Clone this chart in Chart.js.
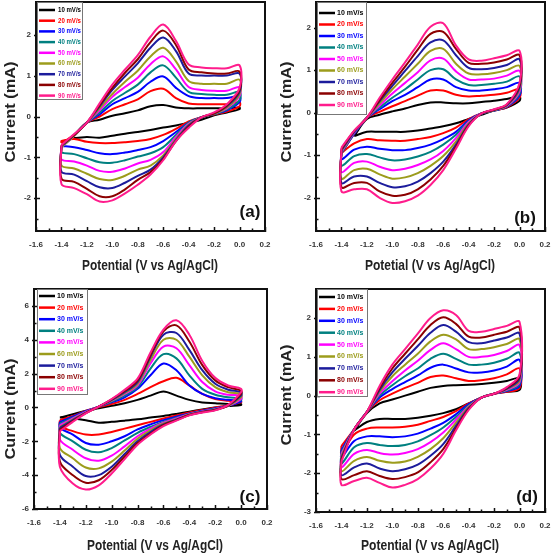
<!DOCTYPE html>
<html>
<head>
<meta charset="utf-8">
<script src="https://cdn.jsdelivr.net/npm/chart.js@4.4.0/dist/chart.umd.min.js"></script>
<style>
  html, body { margin: 0; padding: 0; background: #fff; }
  #fig { position: relative; width: 553px; height: 558px; }
  #fig canvas { position: absolute; }
</style>
</head>
<body>
<div id="fig">
  <canvas id="cvA" width="276" height="279" style="left:0;top:0"></canvas>
  <canvas id="cvB" width="277" height="279" style="left:276px;top:0"></canvas>
  <canvas id="cvC" width="276" height="279" style="left:0;top:279px"></canvas>
  <canvas id="cvD" width="277" height="279" style="left:276px;top:279px"></canvas>
</div>
<script>
// Potential grid (V vs Ag/AgCl), same for the forward and the reverse sweep
const potentials = [-1.4, -1.3, -1.2, -1.1, -1.0, -0.9, -0.8, -0.7, -0.6, -0.5, -0.4, -0.3, -0.2, -0.1, 0.0];
const scanRates = ['10 mV/s', '20 mV/s', '30 mV/s', '40 mV/s', '50 mV/s', '60 mV/s', '70 mV/s', '80 mV/s', '90 mV/s'];
const rateColors = ['#000000', '#ff0000', '#0000ff', '#008080', '#ff00ff', '#9c9c1c', '#1c1c9c', '#8b0000', '#ff1c8c'];

const xTicks = [-1.6, -1.4, -1.2, -1.0, -0.8, -0.6, -0.4, -0.2, 0.0, 0.2];
const yTicksA = [-2, -1, 0, 1, 2];
const yTicksB = [-2, -1, 0, 1, 2];
const yTicksC = [-6, -4, -2, 0, 2, 4, 6];
const yTicksD = [-3, -2, -1, 0, 1, 2];

// Current (mA), one row per scan rate, columns follow `potentials`
// anodic = upper branch, cathodic = lower branch
const anodicA = [
  [null, -0.45, -0.15, -0.08, 0.02, 0.08, 0.15, 0.25, 0.28, 0.22, 0.2, 0.2, 0.2, 0.2, 0.22],
  [-0.65, -0.45, -0.15, 0.0, 0.18, 0.3, 0.42, 0.62, 0.68, 0.45, 0.32, 0.3, 0.3, 0.3, 0.35],
  [-0.72, -0.47, -0.15, 0.05, 0.3, 0.45, 0.6, 0.85, 0.98, 0.7, 0.5, 0.45, 0.45, 0.45, 0.5],
  [-0.75, -0.47, -0.15, 0.1, 0.38, 0.58, 0.78, 1.08, 1.25, 0.95, 0.6, 0.55, 0.53, 0.53, 0.6],
  [-0.75, -0.47, -0.15, 0.15, 0.48, 0.72, 0.95, 1.28, 1.47, 1.15, 0.72, 0.65, 0.63, 0.63, 0.72],
  [-0.75, -0.47, -0.15, 0.2, 0.55, 0.85, 1.12, 1.47, 1.68, 1.35, 0.87, 0.8, 0.8, 0.8, 0.9],
  [-0.72, -0.45, -0.15, 0.25, 0.65, 0.98, 1.3, 1.68, 1.93, 1.6, 1.05, 1.0, 1.0, 1.0, 1.05],
  [-0.7, -0.45, -0.15, 0.28, 0.7, 1.07, 1.4, 1.82, 2.1, 1.75, 1.15, 1.08, 1.05, 1.05, 1.1],
  [-0.7, -0.43, -0.15, 0.32, 0.78, 1.15, 1.5, 1.95, 2.25, 1.85, 1.27, 1.2, 1.18, 1.18, 1.25]
];
const cathodicA = [
  [null, -0.52, -0.5, -0.52, -0.47, -0.42, -0.38, -0.33, -0.27, -0.22, -0.15, -0.08, 0.03, 0.1, 0.18],
  [-0.6, -0.55, -0.62, -0.65, -0.65, -0.63, -0.6, -0.55, -0.45, -0.3, -0.12, -0.02, 0.05, 0.12, 0.25],
  [-0.72, -0.75, -0.82, -0.9, -0.92, -0.88, -0.82, -0.75, -0.6, -0.38, -0.15, -0.02, 0.06, 0.15, 0.35],
  [-0.88, -0.92, -1.02, -1.12, -1.13, -1.07, -0.98, -0.9, -0.75, -0.45, -0.15, -0.02, 0.06, 0.17, 0.4],
  [-1.05, -1.1, -1.2, -1.33, -1.35, -1.27, -1.15, -1.06, -0.87, -0.5, -0.18, -0.02, 0.07, 0.2, 0.5],
  [-1.2, -1.27, -1.4, -1.53, -1.55, -1.45, -1.3, -1.2, -0.95, -0.55, -0.2, -0.02, 0.07, 0.22, 0.55],
  [-1.35, -1.42, -1.58, -1.73, -1.75, -1.62, -1.45, -1.3, -1.0, -0.58, -0.22, -0.02, 0.08, 0.25, 0.6],
  [-1.52, -1.6, -1.77, -1.95, -1.95, -1.78, -1.55, -1.36, -1.04, -0.6, -0.25, -0.02, 0.08, 0.27, 0.65],
  [-1.65, -1.75, -1.9, -2.08, -2.05, -1.88, -1.67, -1.42, -1.07, -0.6, -0.28, -0.02, 0.1, 0.3, 0.7]
];

const anodicB = [
  [null, -0.55, -0.15, -0.05, 0.03, 0.1, 0.18, 0.24, 0.24, 0.22, 0.22, 0.25, 0.28, 0.32, 0.38],
  [-0.95, -0.5, -0.12, 0.02, 0.15, 0.27, 0.4, 0.52, 0.52, 0.42, 0.38, 0.4, 0.42, 0.47, 0.55],
  [-0.95, -0.5, -0.12, 0.08, 0.27, 0.42, 0.6, 0.78, 0.78, 0.6, 0.52, 0.52, 0.55, 0.6, 0.7],
  [-0.95, -0.48, -0.12, 0.12, 0.35, 0.55, 0.78, 1.0, 1.02, 0.78, 0.65, 0.65, 0.68, 0.73, 0.85],
  [-0.92, -0.47, -0.12, 0.17, 0.45, 0.7, 0.95, 1.23, 1.27, 0.97, 0.78, 0.78, 0.8, 0.87, 0.98],
  [-0.9, -0.45, -0.12, 0.22, 0.55, 0.85, 1.15, 1.45, 1.5, 1.15, 0.92, 0.9, 0.93, 1.0, 1.1],
  [-0.88, -0.45, -0.12, 0.27, 0.63, 0.98, 1.33, 1.65, 1.7, 1.35, 1.05, 1.02, 1.05, 1.12, 1.25],
  [-0.85, -0.43, -0.12, 0.3, 0.7, 1.08, 1.48, 1.85, 1.9, 1.5, 1.17, 1.15, 1.18, 1.25, 1.35],
  [-0.82, -0.42, -0.12, 0.35, 0.78, 1.18, 1.6, 2.02, 2.1, 1.58, 1.25, 1.22, 1.28, 1.35, 1.45]
];
const cathodicB = [
  [null, -0.55, -0.45, -0.45, -0.45, -0.45, -0.42, -0.37, -0.32, -0.25, -0.15, -0.05, 0.05, 0.12, 0.28],
  [-0.95, -0.72, -0.62, -0.65, -0.66, -0.66, -0.62, -0.57, -0.48, -0.35, -0.15, -0.02, 0.05, 0.13, 0.35],
  [-1.1, -0.87, -0.8, -0.85, -0.88, -0.88, -0.83, -0.75, -0.62, -0.45, -0.18, -0.02, 0.05, 0.14, 0.4],
  [-1.25, -1.02, -0.97, -1.05, -1.12, -1.1, -1.03, -0.92, -0.75, -0.52, -0.2, -0.02, 0.05, 0.15, 0.45],
  [-1.4, -1.18, -1.15, -1.27, -1.35, -1.32, -1.23, -1.1, -0.9, -0.6, -0.22, -0.02, 0.06, 0.16, 0.5],
  [-1.55, -1.35, -1.32, -1.45, -1.55, -1.52, -1.42, -1.25, -1.02, -0.68, -0.25, -0.02, 0.06, 0.17, 0.55],
  [-1.65, -1.5, -1.5, -1.65, -1.75, -1.73, -1.62, -1.42, -1.15, -0.75, -0.28, -0.02, 0.07, 0.18, 0.6],
  [-1.75, -1.65, -1.65, -1.85, -1.95, -1.93, -1.8, -1.57, -1.25, -0.8, -0.3, -0.02, 0.07, 0.19, 0.65],
  [-1.85, -1.8, -1.8, -2.0, -2.12, -2.08, -1.95, -1.7, -1.35, -0.85, -0.32, -0.02, 0.08, 0.2, 0.7]
];

const anodicC = [
  [-0.6, -0.4, -0.2, -0.05, 0.1, 0.25, 0.45, 0.7, 0.95, 0.7, 0.45, 0.3, 0.25, 0.2, 0.2],
  [-0.75, -0.5, -0.2, 0.02, 0.2, 0.45, 0.8, 1.2, 1.55, 1.75, 1.3, 0.8, 0.5, 0.4, 0.35],
  [-0.85, -0.55, -0.22, 0.05, 0.3, 0.6, 1.1, 1.9, 2.6, 2.2, 1.3, 0.8, 0.55, 0.45, 0.4],
  [-0.95, -0.6, -0.25, 0.05, 0.35, 0.7, 1.2, 2.3, 3.15, 2.9, 1.9, 1.1, 0.75, 0.6, 0.55],
  [-1.05, -0.65, -0.27, 0.05, 0.4, 0.8, 1.3, 2.6, 3.6, 3.5, 2.5, 1.5, 0.95, 0.75, 0.7],
  [-1.15, -0.7, -0.3, 0.05, 0.42, 0.85, 1.4, 2.8, 4.0, 4.0, 3.0, 1.9, 1.2, 0.9, 0.8],
  [-1.2, -0.75, -0.32, 0.05, 0.45, 0.9, 1.5, 3.0, 4.3, 4.4, 3.4, 2.2, 1.4, 1.05, 0.9],
  [-1.3, -0.8, -0.33, 0.05, 0.48, 0.97, 1.6, 3.1, 4.5, 4.85, 3.9, 2.5, 1.6, 1.2, 1.0],
  [-1.4, -0.85, -0.35, 0.05, 0.5, 1.05, 1.7, 3.25, 4.6, 5.15, 4.3, 2.75, 1.75, 1.3, 1.1]
];
const cathodicC = [
  [-0.6, -0.65, -0.75, -0.9, -0.85, -0.78, -0.7, -0.6, -0.5, -0.38, -0.25, -0.12, 0.0, 0.08, 0.15],
  [-1.1, -1.4, -1.6, -1.6, -1.45, -1.25, -1.05, -0.85, -0.65, -0.48, -0.3, -0.15, 0.0, 0.12, 0.3],
  [-1.2, -1.6, -2.1, -2.2, -2.0, -1.7, -1.3, -1.0, -0.75, -0.55, -0.35, -0.2, -0.05, 0.1, 0.35],
  [-1.5, -2.0, -2.5, -2.65, -2.4, -1.95, -1.5, -1.15, -0.85, -0.6, -0.38, -0.22, -0.08, 0.1, 0.45],
  [-1.9, -2.5, -3.0, -3.15, -2.85, -2.3, -1.7, -1.25, -0.9, -0.65, -0.4, -0.24, -0.1, 0.1, 0.5],
  [-2.4, -3.0, -3.55, -3.6, -3.2, -2.55, -1.85, -1.35, -0.95, -0.7, -0.42, -0.26, -0.12, 0.1, 0.6],
  [-2.8, -3.5, -4.05, -4.0, -3.5, -2.75, -2.0, -1.45, -1.0, -0.72, -0.44, -0.27, -0.13, 0.12, 0.7],
  [-3.2, -4.0, -4.45, -4.3, -3.7, -2.9, -2.1, -1.55, -1.05, -0.75, -0.45, -0.28, -0.15, 0.12, 0.8],
  [-3.5, -4.5, -4.85, -4.6, -3.9, -3.05, -2.2, -1.6, -1.1, -0.78, -0.47, -0.3, -0.17, 0.15, 0.9]
];

const anodicD = [
  [null, -0.9, -0.45, -0.2, -0.1, 0.0, 0.1, 0.2, 0.25, 0.27, 0.28, 0.3, 0.33, 0.38, 0.45],
  [-1.3, -0.87, -0.42, -0.12, 0.05, 0.2, 0.33, 0.48, 0.52, 0.45, 0.38, 0.4, 0.45, 0.55, 0.7],
  [-1.4, -0.87, -0.42, -0.05, 0.17, 0.35, 0.52, 0.72, 0.8, 0.7, 0.6, 0.6, 0.65, 0.75, 0.92],
  [-1.45, -0.87, -0.42, 0.0, 0.27, 0.5, 0.7, 0.95, 1.08, 0.95, 0.8, 0.8, 0.85, 0.95, 1.1],
  [-1.5, -0.87, -0.42, 0.05, 0.37, 0.65, 0.9, 1.18, 1.35, 1.2, 1.0, 1.0, 1.05, 1.15, 1.3],
  [-1.55, -0.87, -0.42, 0.1, 0.5, 0.8, 1.08, 1.4, 1.57, 1.45, 1.2, 1.2, 1.25, 1.33, 1.45],
  [-1.6, -0.87, -0.42, 0.15, 0.6, 0.95, 1.28, 1.62, 1.82, 1.65, 1.38, 1.35, 1.42, 1.5, 1.6],
  [-1.65, -0.87, -0.42, 0.2, 0.7, 1.08, 1.45, 1.82, 2.02, 1.85, 1.52, 1.5, 1.57, 1.65, 1.75],
  [-1.7, -0.87, -0.42, 0.25, 0.8, 1.2, 1.6, 2.0, 2.2, 2.08, 1.67, 1.65, 1.72, 1.8, 1.9]
];
const cathodicD = [
  [null, -0.9, -0.68, -0.6, -0.6, -0.6, -0.57, -0.52, -0.45, -0.35, -0.2, -0.05, 0.05, 0.1, 0.15],
  [-1.5, -1.0, -0.85, -0.82, -0.82, -0.8, -0.75, -0.65, -0.55, -0.4, -0.2, -0.05, 0.05, 0.1, 0.2],
  [-1.6, -1.17, -1.05, -1.05, -1.07, -1.05, -0.98, -0.85, -0.7, -0.48, -0.22, -0.05, 0.05, 0.12, 0.25],
  [-1.75, -1.33, -1.22, -1.27, -1.3, -1.27, -1.18, -1.02, -0.82, -0.55, -0.25, -0.05, 0.05, 0.13, 0.3],
  [-1.85, -1.5, -1.4, -1.48, -1.52, -1.48, -1.38, -1.2, -0.95, -0.62, -0.28, -0.05, 0.05, 0.15, 0.35],
  [-1.95, -1.68, -1.58, -1.68, -1.73, -1.7, -1.58, -1.38, -1.1, -0.7, -0.3, -0.05, 0.05, 0.17, 0.4],
  [-2.05, -1.85, -1.75, -1.88, -1.95, -1.9, -1.78, -1.55, -1.25, -0.78, -0.32, -0.05, 0.05, 0.18, 0.45],
  [-2.15, -2.05, -1.95, -2.07, -2.15, -2.1, -1.98, -1.72, -1.38, -0.85, -0.35, -0.05, 0.05, 0.2, 0.5],
  [-2.3, -2.2, -2.12, -2.25, -2.37, -2.3, -2.15, -1.88, -1.5, -0.9, -0.37, -0.05, 0.05, 0.22, 0.55]
];

const fontFamily = '"Liberation Sans", Arial, Helvetica, sans-serif';
const tickFamily = '"Liberation Sans Narrow", "Arial Narrow", "Liberation Sans", Arial, sans-serif';

// forward sweep left->right, reverse sweep right->left, then back to the start
function loopPoints(up, down) {
  const pts = [];
  potentials.forEach((e, i) => { if (up[i] !== null) pts.push({ x: e, y: up[i] }); });
  for (let i = potentials.length - 1; i >= 0; i--) {
    if (down[i] !== null) pts.push({ x: potentials[i], y: down[i] });
  }
  pts.push({ x: pts[0].x, y: pts[0].y });
  return pts;
}

function midpoints(ticks, lo, hi) {
  const step = ticks[1] - ticks[0];
  const out = [];
  for (let i = -1; i < ticks.length; i++) {
    const v = (i < 0 ? ticks[0] - step : ticks[i]) + step / 2;
    if (v > lo && v < hi) out.push(v);
  }
  return out;
}

// text squeezed or stretched horizontally to a given width
function fitText(ctx, text, x, y, width) {
  const w = ctx.measureText(text).width;
  ctx.save();
  ctx.translate(x, y);
  ctx.scale(width / w, 1);
  ctx.fillText(text, 0, 0);
  ctx.restore();
}

// frame plus inward tick marks
const frameTicks = {
  id: 'frameTicks',
  afterDatasetsDraw(chart) {
    const { ctx, chartArea: a, scales } = chart;
    const x = scales.x, y = scales.y;
    ctx.save();
    ctx.strokeStyle = '#111';
    ctx.lineWidth = 1.5;
    ctx.beginPath();
    xTicks.forEach(v => {
      const px = Math.round(x.getPixelForValue(v)) + 0.5;
      ctx.moveTo(px, a.bottom + 1); ctx.lineTo(px, a.bottom - 4);
    });
    midpoints(xTicks, x.min, x.max).forEach(v => {
      const px = Math.round(x.getPixelForValue(v)) + 0.5;
      ctx.moveTo(px, a.bottom); ctx.lineTo(px, a.bottom - 2.5);
    });
    y.ticks.forEach(t => {
      const py = Math.round(y.getPixelForValue(t.value)) + 0.5;
      ctx.moveTo(a.left - 2, py); ctx.lineTo(a.left + 4, py);
    });
    midpoints(y.ticks.map(t => t.value), y.min, y.max).forEach(v => {
      const py = Math.round(y.getPixelForValue(v)) + 0.5;
      ctx.moveTo(a.left, py); ctx.lineTo(a.left + 2.5, py);
    });
    ctx.stroke();
    ctx.lineWidth = 2;
    ctx.strokeRect(a.left, a.top, a.right - a.left, a.bottom - a.top);
    ctx.restore();
  }
};

// legend drawn inside the plot, top left
const boxLegend = {
  id: 'boxLegend',
  afterDraw(chart, args, o) {
    const ctx = chart.ctx;
    ctx.save();
    ctx.fillStyle = '#fff';
    ctx.fillRect(o.x, o.y, o.w, o.h);
    ctx.strokeStyle = '#777';
    ctx.lineWidth = 1;
    ctx.strokeRect(o.x + 0.5, o.y + 0.5, o.w, o.h);
    ctx.font = 'bold 7px ' + fontFamily;
    ctx.textBaseline = 'middle';
    ctx.textAlign = 'left';
    chart.data.datasets.forEach((ds, k) => {
      const cy = o.firstY + k * o.rowH;
      ctx.strokeStyle = ds.borderColor;
      ctx.lineWidth = 2.5;
      ctx.beginPath();
      ctx.moveTo(o.lineX, cy); ctx.lineTo(o.lineX + o.lineW, cy);
      ctx.stroke();
      ctx.fillStyle = ds.borderColor;
      ctx.fillText(ds.label, o.textX, cy, o.textW);
    });
    ctx.restore();
  }
};

// axis titles and panel letter
const panelText = {
  id: 'panelText',
  afterDraw(chart, args, o) {
    const ctx = chart.ctx;
    ctx.save();
    ctx.fillStyle = '#222';
    ctx.textAlign = 'center';
    ctx.textBaseline = 'middle';
    ctx.font = 'bold 14px ' + fontFamily;
    fitText(ctx, o.xTitle, o.xTitleX, o.xTitleY, o.xTitleW);
    ctx.save();
    ctx.translate(o.yTitleX, o.yTitleY);
    ctx.rotate(-Math.PI / 2);
    fitText(ctx, 'Current (mA)', 0, 0, o.yTitleW);
    ctx.restore();
    ctx.fillStyle = '#111';
    ctx.font = 'bold 17px ' + fontFamily;
    ctx.fillText(o.label, o.labelX, o.labelY);
    ctx.restore();
  }
};

function makePanel(id, anodic, cathodic, yMin, yMax, yTicks, L, deco, leg) {
  const tickFont = { family: tickFamily, size: 8, weight: 'bold' };
  return new Chart(document.getElementById(id), {
    type: 'scatter',
    data: {
      datasets: scanRates.map((lab, k) => ({
        label: lab,
        data: loopPoints(anodic[k], cathodic[k]),
        showLine: true,
        borderColor: rateColors[k],
        backgroundColor: rateColors[k],
        borderWidth: 2,
        pointRadius: 0,
        tension: 0.35,
        order: scanRates.length - k
      }))
    },
    options: {
      responsive: false,
      animation: false,
      devicePixelRatio: 1,
      layout: { padding: { left: 0, top: L.top, right: L.right, bottom: 0 } },
      plugins: {
        legend: { display: false },
        tooltip: { enabled: false },
        panelText: deco,
        boxLegend: leg
      },
      scales: {
        x: {
          type: 'linear', min: -1.6, max: 0.2,
          grid: { display: false, drawTicks: false },
          border: { display: false },
          ticks: { font: tickFont, color: '#333', padding: 9, maxRotation: 0, callback: v => v.toFixed(1) },
          afterBuildTicks: s => { s.ticks = xTicks.map(v => ({ value: v })); },
          afterFit: s => { s.height = L.xAxisH; s.paddingLeft = 0; s.paddingRight = 0; }
        },
        y: {
          type: 'linear', min: yMin, max: yMax,
          grid: { display: false, drawTicks: false },
          border: { display: false },
          ticks: { font: tickFont, color: '#333', padding: 5, callback: v => String(v) },
          afterBuildTicks: s => { s.ticks = yTicks.map(v => ({ value: v })); },
          afterFit: s => { s.width = L.left; s.paddingTop = 0; s.paddingBottom = 0; }
        }
      }
    },
    plugins: [frameTicks, boxLegend, panelText]
  });
}

makePanel('cvA', anodicA, cathodicA, -2.8, 2.8, yTicksA,
  { left: 36, right: 11, top: 2, xAxisH: 48 },
  { xTitle: 'Potential (V vs Ag/AgCl)', xTitleX: 150, xTitleY: 266, xTitleW: 136, yTitleX: 11, yTitleY: 112, yTitleW: 101, label: '(a)', labelX: 250, labelY: 212 },
  { x: 37, y: 2, w: 45, h: 97, lineX: 39, lineW: 16, textX: 58, textW: 23, firstY: 10, rowH: 10.7 });

makePanel('cvB', anodicB, cathodicB, -2.78, 2.6, yTicksB,
  { left: 40, right: 8, top: 2, xAxisH: 48 },
  { xTitle: 'Potetial (V vs Ag/AgCl)', xTitleX: 154, xTitleY: 266, xTitleW: 130, yTitleX: 11, yTitleY: 112, yTitleW: 101, label: '(b)', labelX: 249, labelY: 218 },
  { x: 41, y: 2, w: 49, h: 112, lineX: 43, lineW: 16, textX: 61, textW: 27, firstY: 13, rowH: 11.5 });

makePanel('cvC', anodicC, cathodicC, -6, 7, yTicksC,
  { left: 34, right: 9, top: 10, xAxisH: 49 },
  { xTitle: 'Potential (V vs Ag/AgCl)', xTitleX: 155, xTitleY: 267, xTitleW: 136, yTitleX: 11, yTitleY: 130, yTitleW: 101, label: '(c)', labelX: 250, labelY: 218 },
  { x: 37, y: 10, w: 50, h: 105, lineX: 39, lineW: 16, textX: 57, textW: 29, firstY: 17, rowH: 11.6 });

makePanel('cvD', anodicD, cathodicD, -3, 2.75, yTicksD,
  { left: 40, right: 8, top: 10, xAxisH: 46 },
  { xTitle: 'Potential (V vs Ag/AgCl)', xTitleX: 154, xTitleY: 267, xTitleW: 138, yTitleX: 11, yTitleY: 116, yTitleW: 101, label: '(d)', labelX: 251, labelY: 218 },
  { x: 41, y: 10, w: 50, h: 107, lineX: 43, lineW: 16, textX: 61, textW: 28, firstY: 18, rowH: 11.9 });
</script>
</body>
</html>
